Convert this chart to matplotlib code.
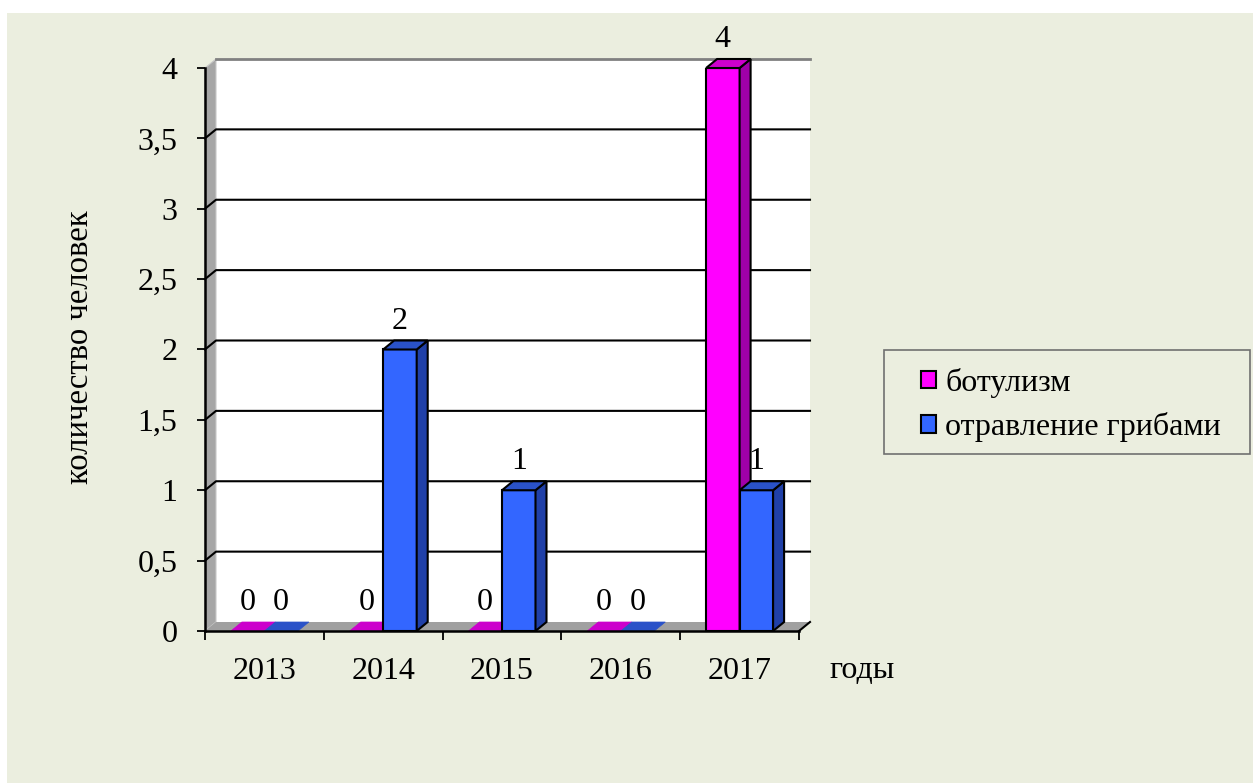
import matplotlib
matplotlib.use('Agg')
import matplotlib.pyplot as plt
from matplotlib.patches import Polygon, Rectangle, Patch

plt.rcParams['font.family'] = ['Liberation Serif', 'DejaVu Serif']

# данные
years = ['2013', '2014', '2015', '2016', '2017']
botulism = [0, 0, 0, 0, 4]
mushrooms = [0, 2, 1, 0, 1]
series_names = ['ботулизм', 'отравление грибами']
y_ticks = [0, 0.5, 1, 1.5, 2, 2.5, 3, 3.5, 4]
y_tick_labels = ['0', '0,5', '1', '1,5', '2', '2,5', '3', '3,5', '4']
y_title = 'количество человек'
x_title = 'годы'

# цвета: лицевая, боковая, верхняя грань
colors = [('#FF00FF', '#A000A8', '#CC00CC'),
          ('#3366FF', '#2040A8', '#2A52C8')]
BG = '#EBEEDF'
FS = 23

W, H = 1253, 783
fig = plt.figure(figsize=(W / 100, H / 100), dpi=100)
fig.patch.set_facecolor('white')
fig.add_artist(Rectangle((7 / W, 0), 1 - 7 / W, 1 - 13 / H, transform=fig.transFigure,
                         facecolor=BG, edgecolor='none', zorder=-10))

ax = fig.add_axes([205 / W, (H - 631) / H, 594 / W, 563 / H])
ax.set_facecolor('none')
n = len(years)
ymax = 4
ax.set_xlim(0, n)
ax.set_ylim(0, ymax)

# смещение глубины (псевдо-3D)
DX = 11 / 594 * n
DY = 9 / 563 * ymax

# задняя стенка
ax.add_patch(Polygon([(DX, DY), (n + DX, DY), (n + DX, ymax + DY), (DX, ymax + DY)],
                     closed=True, facecolor='white', edgecolor='none', clip_on=False, zorder=0.5))
ax.plot([DX, n + DX], [ymax + DY, ymax + DY], color='#808080', lw=2, clip_on=False, zorder=0.6)
# левая стенка
ax.add_patch(Polygon([(0, 0), (DX, DY), (DX, ymax + DY), (0, ymax)],
                     closed=True, facecolor='#A6A6A6', edgecolor='#C8C8C8', lw=0.8,
                     clip_on=False, zorder=0.55))
# пол
ax.add_patch(Polygon([(0, 0), (n, 0), (n + DX, DY), (DX, DY)],
                     closed=True, facecolor='#A0A0A0', edgecolor='none', clip_on=False, zorder=0.55))
ax.plot([n, n + DX], [0, DY], color='black', lw=1.5, clip_on=False, zorder=0.7)

# сетка
for v in y_ticks[1:-1]:
    ax.plot([0, DX, n + DX], [v, v + DY, v + DY], color='black', lw=1.5,
            clip_on=False, zorder=0.7)

# столбцы
w = 33.5 / 594 * n
for k in range(n):
    c = k + 0.5
    for i, vals in enumerate([botulism, mushrooms]):
        v = vals[k]
        x = c - w + i * w
        front, side, top = colors[i]
        if v > 0:
            ax.bar(x, v, width=w, align='edge', color=front, edgecolor='black', lw=1.5, zorder=2)
            ax.add_patch(Polygon([(x + w, 0), (x + w + DX, DY), (x + w + DX, v + DY), (x + w, v)],
                                 closed=True, facecolor=side, edgecolor='black', lw=1.5,
                                 clip_on=False, zorder=2))
            ax.add_patch(Polygon([(x, v), (x + w, v), (x + w + DX, v + DY), (x + DX, v + DY)],
                                 closed=True, facecolor=top, edgecolor='black', lw=1.5,
                                 clip_on=False, zorder=2))
        else:
            ax.add_patch(Polygon([(x, 0), (x + w, 0), (x + w + DX, DY), (x + DX, DY)],
                                 closed=True, facecolor=top, edgecolor=top, lw=0.5,
                                 clip_on=False, zorder=1.5))
        ax.annotate(str(v), xy=(x + w / 2, v + DY), xytext=(0, 14), textcoords='offset points',
                    ha='center', va='center', fontsize=FS, annotation_clip=False, zorder=3)

# оси
for s in ['top', 'right']:
    ax.spines[s].set_visible(False)
ax.spines['left'].set_linewidth(1.8)
ax.spines['bottom'].set_linewidth(1.8)
ax.spines['left'].set_zorder(2.5)
ax.spines['bottom'].set_zorder(2.5)

ax.set_yticks(y_ticks)
ax.set_yticklabels(y_tick_labels)
ax.tick_params(axis='y', direction='out', length=5.8, width=1.3, pad=14, labelsize=FS)

ax.set_xticks(range(n + 1))
ax.set_xticklabels([])
ax.set_xticks([k + 0.5 for k in range(n)], minor=True)
ax.set_xticklabels(years, minor=True)
ax.tick_params(axis='x', which='major', direction='out', length=6.5, width=1.3)
ax.tick_params(axis='x', which='minor', length=0, pad=18.5, labelsize=FS)

fig.text(80 / W, 1 - 347 / H, y_title, rotation=90, ha='center', va='center', fontsize=FS + 0.5)
ax.annotate(x_title, xy=(n, 0), xytext=(22, -28.5), textcoords='offset points',
            ha='left', va='center', fontsize=FS, annotation_clip=False)

# легенда
fig.add_artist(Rectangle((884 / W, 1 - 454 / H), (1250 - 884) / W, 104 / H,
                         transform=fig.transFigure, facecolor='none', edgecolor='#707070', lw=1.2))
handles = [Patch(facecolor=colors[i][0], edgecolor='black', lw=1.5) for i in range(2)]
fig.legend(handles, series_names, loc='center left', bbox_to_anchor=(921 / W, 1 - 405 / H),
           frameon=False, fontsize=FS, handlelength=0.48, handleheight=0.48,
           handletextpad=0.28, labelspacing=0.45, borderpad=0, borderaxespad=0)

fig.savefig('out.png', dpi=100)
